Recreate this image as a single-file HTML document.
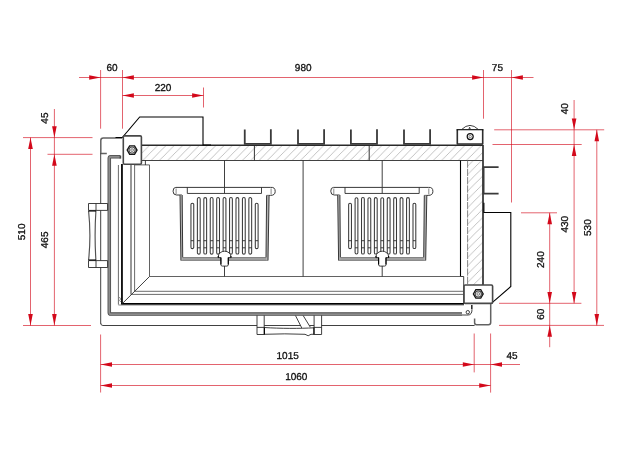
<!DOCTYPE html>
<html lang="en"><head><meta charset="utf-8"><title>Dimensional drawing</title>
<style>
html,body{margin:0;padding:0;background:#fff}
svg{display:block}
.r{stroke:#d3091b;stroke-width:.64;fill:none}
.ar{fill:#d3091b;stroke:none}
.t{text-rendering:geometricPrecision;font-family:"Liberation Sans",Arial,sans-serif;font-size:10px;fill:#111;stroke:#111;stroke-width:.3;text-anchor:middle}
.n{stroke:#2b2b2b;stroke-width:.9;fill:none}
.nw{stroke:#2b2b2b;stroke-width:.9;fill:#fff}
.g{stroke:#555;stroke-width:.7;fill:none}
.cho{stroke:#484848;stroke-width:3.5;fill:none}
.chi{stroke:#8c8c8c;stroke-width:1.9;fill:none}
.k{stroke:#000;stroke-width:1.1;fill:none}
.kt{stroke:#2a2a2a;stroke-width:1.5;fill:none}
.gl{stroke:#777;stroke-width:.9;fill:none;stroke-dasharray:7.3 1}
.b{stroke:#383838;stroke-width:1;fill:none}
.s{stroke:#3a3a3a;stroke-width:1.05;fill:#fff}
.kb{stroke:#2e2e2e;stroke-width:1.6;fill:none;stroke-linejoin:round}
.kc{stroke:#111;stroke-width:1.2;fill:none}
.gb{stroke:#383838;stroke-width:.95;fill:none}
.dv{stroke:#2a2a2a;stroke-width:.95;fill:none}
.u{stroke:#3a3a3a;stroke-width:1.8;fill:none}
.n2{stroke:#505050;stroke-width:.85;fill:none}
.n3{stroke:#3a3a3a;stroke-width:.8;fill:none}
.re{stroke:#303030;stroke-width:1.7;fill:none}
.bl{stroke:#777;stroke-width:.8;fill:none}
.n4{stroke:#444;stroke-width:1.1;fill:none}
.hc{stroke:#505050;stroke-width:1.15;fill:none}
.kk{stroke:#000;stroke-width:1.75;fill:none}
.d2{stroke:#484848;stroke-width:1.6;fill:none;stroke-linejoin:round}
.bh{stroke:#151515;stroke-width:1.35;fill:#fff}
.d3{stroke:#626262;stroke-width:1.5;fill:none;stroke-linejoin:round}
.br{stroke:#484848;stroke-width:1.15;fill:#f4f4f4}
.bc{stroke:#6a6a6a;stroke-width:.8;fill:none}
</style></head><body>
<svg style="will-change:transform;opacity:.999" width="624" height="460" viewBox="0 0 624 460">
<defs><pattern id="h2" width="8.3" height="8.3" patternUnits="userSpaceOnUse" patternTransform="translate(3 0)"><path d="M-1 9.3 L9.3 -1 M-1 1 L1 -1 M7.3 9.3 L9.3 7.3" stroke="#a6a6a6" stroke-width=".68"/></pattern><pattern id="h" width="8.3" height="8.3" patternUnits="userSpaceOnUse" patternTransform="translate(4.4 0)"><path d="M-1 9.3 L9.3 -1 M-1 1 L1 -1 M7.3 9.3 L9.3 7.3" stroke="#a6a6a6" stroke-width=".68"/></pattern></defs>
<rect width="624" height="460" fill="#fff"/>
<g id="dims">
<line x1="79" y1="77.5" x2="533.5" y2="77.5" class="r"/>
<line x1="100.6" y1="70" x2="100.6" y2="128.7" class="r"/>
<line x1="122.5" y1="70" x2="122.5" y2="128.7" class="r"/>
<line x1="483.5" y1="70" x2="483.5" y2="118.7" class="r"/>
<line x1="511.5" y1="70" x2="511.5" y2="202.5" class="r"/>
<polygon points="100.60,77.50 89.20,75.20 89.20,79.80" class="ar"/>
<polygon points="122.50,77.50 133.90,75.20 133.90,79.80" class="ar"/>
<polygon points="483.50,77.50 472.10,75.20 472.10,79.80" class="ar"/>
<polygon points="511.50,77.50 522.90,75.20 522.90,79.80" class="ar"/>
<text x="112.1" y="71.3" class="t">60</text>
<text x="303.2" y="71.1" class="t">980</text>
<text x="497.4" y="70.8" class="t">75</text>
<line x1="122.5" y1="95.5" x2="203.5" y2="95.5" class="r"/>
<line x1="203.5" y1="87.5" x2="203.5" y2="107.5" class="r"/>
<polygon points="122.50,95.50 133.90,93.20 133.90,97.80" class="ar"/>
<polygon points="203.50,95.50 192.10,93.20 192.10,97.80" class="ar"/>
<text x="163.1" y="90.6" class="t">220</text>
<line x1="23" y1="137.6" x2="92.5" y2="137.6" class="r"/>
<line x1="47.5" y1="154.3" x2="92.5" y2="154.3" class="r"/>
<line x1="23" y1="325.5" x2="91" y2="325.5" class="r"/>
<line x1="54.4" y1="109" x2="54.4" y2="325.5" class="r"/>
<line x1="30.5" y1="137.6" x2="30.5" y2="325.5" class="r"/>
<polygon points="54.40,137.60 52.10,126.20 56.70,126.20" class="ar"/>
<polygon points="54.40,154.30 52.10,165.70 56.70,165.70" class="ar"/>
<polygon points="54.40,325.50 52.10,314.10 56.70,314.10" class="ar"/>
<polygon points="30.50,137.60 28.20,149.00 32.80,149.00" class="ar"/>
<polygon points="30.50,325.50 28.20,314.10 32.80,314.10" class="ar"/>
<text transform="translate(48.4 118.1) rotate(-90)" class="t">45</text>
<text transform="translate(24.6 231.9) rotate(-90)" class="t">510</text>
<text transform="translate(48.4 239.9) rotate(-90)" class="t">465</text>
<line x1="100.6" y1="334.5" x2="100.6" y2="392.5" class="r"/>
<line x1="474.2" y1="333.5" x2="474.2" y2="372.4" class="r"/>
<line x1="490.6" y1="333.5" x2="490.6" y2="392.6" class="r"/>
<line x1="100.6" y1="364.5" x2="520" y2="364.5" class="r"/>
<line x1="100.6" y1="385.5" x2="490.6" y2="385.5" class="r"/>
<polygon points="100.60,364.50 112.00,362.20 112.00,366.80" class="ar"/>
<polygon points="474.20,364.50 462.80,362.20 462.80,366.80" class="ar"/>
<polygon points="490.60,364.50 502.00,362.20 502.00,366.80" class="ar"/>
<polygon points="100.60,385.50 112.00,383.20 112.00,387.80" class="ar"/>
<polygon points="490.60,385.50 479.20,383.20 479.20,387.80" class="ar"/>
<text x="287.7" y="358.6" class="t">1015</text>
<text x="296.3" y="380" class="t">1060</text>
<text x="512" y="358.8" class="t">45</text>
<line x1="494.2" y1="129.8" x2="604.2" y2="129.8" class="r"/>
<line x1="492.5" y1="144.5" x2="581.7" y2="144.5" class="r"/>
<line x1="521" y1="212.8" x2="557" y2="212.8" class="r"/>
<line x1="499" y1="303.3" x2="581.4" y2="303.3" class="r"/>
<line x1="499" y1="325.4" x2="604" y2="325.4" class="r"/>
<line x1="574.1" y1="100" x2="574.1" y2="303.3" class="r"/>
<line x1="596.8" y1="129.8" x2="596.8" y2="325.5" class="r"/>
<line x1="549.7" y1="212.8" x2="549.7" y2="347.2" class="r"/>
<polygon points="574.10,129.80 571.80,118.40 576.40,118.40" class="ar"/>
<polygon points="574.10,144.60 571.80,156.00 576.40,156.00" class="ar"/>
<polygon points="574.10,303.30 571.80,291.90 576.40,291.90" class="ar"/>
<polygon points="596.80,129.80 594.50,141.20 599.10,141.20" class="ar"/>
<polygon points="596.80,325.50 594.50,314.10 599.10,314.10" class="ar"/>
<polygon points="549.70,212.80 547.40,224.20 552.00,224.20" class="ar"/>
<polygon points="549.70,303.30 547.40,291.90 552.00,291.90" class="ar"/>
<polygon points="549.70,325.40 547.40,336.80 552.00,336.80" class="ar"/>
<text transform="translate(568 108.7) rotate(-90)" class="t">40</text>
<text transform="translate(568 224.2) rotate(-90)" class="t">430</text>
<text transform="translate(590.7 227.6) rotate(-90)" class="t">530</text>
<text transform="translate(544 259.6) rotate(-90)" class="t">240</text>
<text transform="translate(544 314.2) rotate(-90)" class="t">60</text>
</g>
<g id="drw">
<rect x="141.3" y="145.5" width="341.4" height="15" fill="url(#h)"/>
<rect x="467.6" y="160.5" width="15.4" height="124.5" fill="url(#h2)"/>
<line x1="141.3" y1="160.5" x2="483" y2="160.5" class="gb"/>
<line x1="467.6" y1="160.5" x2="467.6" y2="285" class="gl"/>
<line x1="141.3" y1="145.2" x2="483" y2="145.2" class="kt"/>
<line x1="254.4" y1="145.5" x2="254.4" y2="160.5" class="dv"/>
<line x1="369.2" y1="145.5" x2="369.2" y2="160.5" class="dv"/>
<line x1="483" y1="145" x2="483" y2="285" class="re"/>
<path d="M244.75 129.5 V143.9 H270.85 V129.3" class="u"/>
<path d="M298 129.5 V143.9 H324.1 V129.3" class="u"/>
<path d="M350.9 129.5 V143.9 H377.0 V129.3" class="u"/>
<path d="M404 129.5 V143.9 H430.1 V129.3" class="u"/>
<path d="M498.6 167.2 H483.6 V193.6 H498.6" class="u"/>
<path d="M483.9 202.8 V212.5 H510.8 V286.5 L491.9 302.8" class="k"/>
<path d="M122 138 H103.3 Q100.8 138 100.8 140.5 V153.4 H106.8" class="d3"/>
<line x1="100.7" y1="153.4" x2="100.7" y2="203.5" class="n"/>
<line x1="100.7" y1="210.4" x2="100.7" y2="260.5" class="n"/>
<line x1="100.7" y1="267.5" x2="100.7" y2="323.5" class="n"/>
<path d="M100.7 323 Q100.7 325.5 102.9 325.5 H257 M264.2 325.5 H300.4 M309.4 325.5 H314.1 M321.6 325.5 H474.6" class="n"/>
<path d="M120.3 156.7 H110.9 Q109.3 156.7 109.3 158.3 V312.5 Q109.3 314.1 110.9 314.1 H462" class="cho"/>
<path d="M120.3 156.7 H110.9 Q109.3 156.7 109.3 158.3 V312.5 Q109.3 314.1 110.9 314.1 H462" class="chi"/>
<path d="M120.4 155.6 V158.6" class="d2"/>
<line x1="118.4" y1="165" x2="118.4" y2="304.6" class="n2"/>
<line x1="121.95" y1="164" x2="121.95" y2="303.8" class="kk"/>
<line x1="121.1" y1="303.75" x2="464" y2="303.75" class="kk"/>
<line x1="118.4" y1="305" x2="464" y2="305" class="g"/>
<path d="M119.3 297 L120.6 299 L119.6 300.5 L120.8 302" class="g"/>
<path d="M131 164.9 V294.4" class="n4"/>
<path d="M131 294.4 H463.7" class="n2"/>
<path d="M134.6 164.9 V291.3 H463.7" class="n2"/>
<path d="M134.6 164.9 H149.5 V276.5 H460.4" class="n3"/>
<line x1="122.3" y1="303.6" x2="149.5" y2="276.5" class="n"/>
<line x1="145.4" y1="160.3" x2="145.4" y2="165" class="n"/>
<line x1="303.1" y1="160.5" x2="303.1" y2="276.5" class="n"/>
<line x1="460.5" y1="160.5" x2="460.5" y2="276.5" class="k"/>
<line x1="463.7" y1="276.5" x2="463.7" y2="303.6" class="n"/>
<line x1="460.4" y1="276.5" x2="463.7" y2="276.5" class="n"/>
<path d="M115.5 137.5 H122.3 L139.7 117 H203 V145 H211" class="k"/>
<rect x="123.3" y="135.9" width="18.1" height="28.3" rx="1.2" class="d2"/>
<rect x="464" y="285" width="28.6" height="18.4" rx="1.2" class="d2"/>
<path d="M457.3 129.7 V144 H482.7 V129.7" class="kb"/>
<line x1="456.5" y1="129.7" x2="483.5" y2="129.7" class="k"/>
<polygon points="137.00,150.10 134.55,154.34 129.65,154.34 127.20,150.10 129.65,145.86 134.55,145.86" class="bh"/>
<circle cx="132.1" cy="150.1" r="3.1" class="br"/>
<circle cx="132.1" cy="150.1" r="1.4" class="bc" style="fill:#e4e4e4"/>
<polygon points="483.20,293.90 480.75,298.14 475.85,298.14 473.40,293.90 475.85,289.66 480.75,289.66" class="bh"/>
<circle cx="478.3" cy="293.9" r="3.1" class="br"/>
<circle cx="478.3" cy="293.9" r="1.4" class="bc" style="fill:#e4e4e4"/>
<circle cx="470.2" cy="136.6" r="3" class="kc"/><circle cx="470.2" cy="136.6" r="1.2" class="bc"/>
<path d="M461.6 129.5 Q470 121.3 478.4 129.5" class="n"/>
<path d="M468.9 129.2 L469.6 127.3 L470.3 129.2" class="n"/>
<path d="M490.7 304 V322.5 Q490.7 324.7 488.5 324.7 H476.5 Q474.6 324.7 474.6 322.8 V318.6" class="d3"/>
<path d="M471.8 305 V309.3" class="kb"/>
<path d="M472 309.5 Q472 315 468 315 H462" class="n"/>
<circle cx="467.8" cy="312.2" r="1.7" class="n" style="fill:#fff"/>
<path d="M88.5 203.5 H107.6 V210.4 H88.5 Z M96 203.5 V210.4 M88.5 260.6 H107.6 V267.5 H88.5 Z M96 260.6 V267.5" class="n"/>
<path d="M88.6 211 Q91.2 235.5 88.6 260 M95.9 211 Q94.3 235.5 95.9 260" class="hc"/>
<line x1="88.5" y1="211" x2="96" y2="211" class="k"/>
<line x1="88.5" y1="260" x2="96" y2="260" class="k"/>
<path d="M257 315.4 V334.5 H264.2 V315.4 M314.1 315.4 V334.5 H321.6 V315.4 M257 327.4 H264.2 M314.1 327.4 H321.6" class="n"/>
<path d="M264.2 327.5 C280 328.6 300 328.6 314.1 327.8 M264.2 334.3 Q285 333.4 305 334.3 Q308.3 337.2 311 334.3 H314.1" class="n"/>
<line x1="264.4" y1="327.4" x2="264.4" y2="334.5" class="k"/>
<line x1="313.9" y1="327.4" x2="313.9" y2="334.5" class="k"/>
<line x1="295.5" y1="315.6" x2="301.9" y2="328.2" class="n"/>
<line x1="303.2" y1="315.6" x2="310.3" y2="327.2" class="n"/>
<line x1="224.5" y1="160.5" x2="224.5" y2="193.4" class="n"/>
<line x1="224.5" y1="265.8" x2="224.5" y2="276.5" class="n"/>
<path d="M175.80 187.4 H270.70" class="b"/>
<path d="M175.80 187.4 Q173.05 187.4 173.05 191.2 Q173.05 195 176.50 195 H181.90" class="b"/>
<path d="M270.70 187.4 Q275.20 186.9 275.20 191.4 Q275.20 195.4 270.50 195.4 H266.70" class="b"/>
<line x1="176.1" y1="188.5" x2="176.1" y2="194.2" class="g"/>
<line x1="271.1" y1="188.5" x2="271.1" y2="194.4" class="g"/>
<path d="M187.30 187.4 V193.45 H261.50 V187.4" class="n"/>
<path d="M180.00 195 L180.90 260.5 H268.00 L269.10 195.4 H266.60 L266.00 257.4 H182.70 L182.20 195 Z" fill="#b4b4b4"/>
<rect x="182.70" y="257.4" width="83.3" height="3.1" fill="#a0a0a0"/>
<path d="M180.00 195 L180.90 260.5 M268.00 260.5 L269.10 195.4" class="b"/>
<path d="M182.20 195 L182.70 257.4 M266.00 257.4 L266.60 195.4" class="b"/>
<path d="M180.90 260.4 H268.00 M182.70 257.5 H266.00" class="bl"/>
<path d="M190.95 247.2 V204.6 A1.4 1.4 0 0 1 193.75 204.6 V247.2 A1.4 1.4 0 0 1 190.95 247.2 Z" class="s"/>
<line x1="190.95" y1="240.7" x2="193.75" y2="240.7" class="n"/>
<path d="M197.38 252.7 V199.0 A1.4 1.4 0 0 1 200.19 199.0 V252.7 A1.4 1.4 0 0 1 197.38 252.7 Z" class="s"/>
<line x1="197.38" y1="240.7" x2="200.19" y2="240.7" class="n"/>
<line x1="197.38" y1="247.8" x2="200.19" y2="247.8" class="n"/>
<path d="M203.82 252.7 V199.0 A1.4 1.4 0 0 1 206.62 199.0 V252.7 A1.4 1.4 0 0 1 203.82 252.7 Z" class="s"/>
<line x1="203.82" y1="240.7" x2="206.62" y2="240.7" class="n"/>
<line x1="203.82" y1="247.8" x2="206.62" y2="247.8" class="n"/>
<path d="M210.25 252.7 V199.0 A1.4 1.4 0 0 1 213.06 199.0 V252.7 A1.4 1.4 0 0 1 210.25 252.7 Z" class="s"/>
<line x1="210.25" y1="240.7" x2="213.06" y2="240.7" class="n"/>
<line x1="210.25" y1="247.8" x2="213.06" y2="247.8" class="n"/>
<path d="M216.69 252.7 V199.0 A1.4 1.4 0 0 1 219.49 199.0 V252.7 A1.4 1.4 0 0 1 216.69 252.7 Z" class="s"/>
<line x1="216.69" y1="240.7" x2="219.49" y2="240.7" class="n"/>
<line x1="216.69" y1="247.8" x2="219.49" y2="247.8" class="n"/>
<path d="M223.12 252.7 V199.0 A1.4 1.4 0 0 1 225.92 199.0 V252.7 A1.4 1.4 0 0 1 223.12 252.7 Z" class="s"/>
<line x1="223.12" y1="240.7" x2="225.92" y2="240.7" class="n"/>
<line x1="223.12" y1="247.8" x2="225.92" y2="247.8" class="n"/>
<path d="M229.56 252.7 V199.0 A1.4 1.4 0 0 1 232.36 199.0 V252.7 A1.4 1.4 0 0 1 229.56 252.7 Z" class="s"/>
<line x1="229.56" y1="240.7" x2="232.36" y2="240.7" class="n"/>
<line x1="229.56" y1="247.8" x2="232.36" y2="247.8" class="n"/>
<path d="M235.99 252.7 V199.0 A1.4 1.4 0 0 1 238.79 199.0 V252.7 A1.4 1.4 0 0 1 235.99 252.7 Z" class="s"/>
<line x1="235.99" y1="240.7" x2="238.79" y2="240.7" class="n"/>
<line x1="235.99" y1="247.8" x2="238.79" y2="247.8" class="n"/>
<path d="M242.43 252.7 V199.0 A1.4 1.4 0 0 1 245.23 199.0 V252.7 A1.4 1.4 0 0 1 242.43 252.7 Z" class="s"/>
<line x1="242.43" y1="240.7" x2="245.23" y2="240.7" class="n"/>
<line x1="242.43" y1="247.8" x2="245.23" y2="247.8" class="n"/>
<path d="M248.86 252.7 V199.0 A1.4 1.4 0 0 1 251.66 199.0 V252.7 A1.4 1.4 0 0 1 248.86 252.7 Z" class="s"/>
<line x1="248.86" y1="240.7" x2="251.66" y2="240.7" class="n"/>
<line x1="248.86" y1="247.8" x2="251.66" y2="247.8" class="n"/>
<path d="M255.30 247.2 V204.6 A1.4 1.4 0 0 1 258.10 204.6 V247.2 A1.4 1.4 0 0 1 255.30 247.2 Z" class="s"/>
<line x1="255.3" y1="240.7" x2="258.1" y2="240.7" class="n"/>
<path d="M218.30 257.6 V256.6 A6.3 5.4 0 0 1 230.90 256.6 V257.6 H228.30 V264.6 Q228.30 266.1 226.80 266.1 H222.40 Q220.90 266.1 220.90 264.6 V257.6 Z" class="nw"/>
<path d="M220.90 257.6 V264.4 M228.30 257.6 V264.4 M218.30 256 V257.8 M230.90 256 V257.8" class="k"/>
<line x1="382.2" y1="160.5" x2="382.2" y2="193.4" class="n"/>
<line x1="382.2" y1="265.8" x2="382.2" y2="276.5" class="n"/>
<path d="M333.50 187.4 H428.40" class="b"/>
<path d="M333.50 187.4 Q330.75 187.4 330.75 191.2 Q330.75 195 334.20 195 H339.60" class="b"/>
<path d="M428.40 187.4 Q432.90 186.9 432.90 191.4 Q432.90 195.4 428.20 195.4 H424.40" class="b"/>
<line x1="333.8" y1="188.5" x2="333.8" y2="194.2" class="g"/>
<line x1="428.8" y1="188.5" x2="428.8" y2="194.4" class="g"/>
<path d="M345.00 187.4 V193.45 H419.20 V187.4" class="n"/>
<path d="M337.70 195 L338.60 260.5 H425.70 L426.80 195.4 H424.30 L423.70 257.4 H340.40 L339.90 195 Z" fill="#b4b4b4"/>
<rect x="340.40" y="257.4" width="83.3" height="3.1" fill="#a0a0a0"/>
<path d="M337.70 195 L338.60 260.5 M425.70 260.5 L426.80 195.4" class="b"/>
<path d="M339.90 195 L340.40 257.4 M423.70 257.4 L424.30 195.4" class="b"/>
<path d="M338.60 260.4 H425.70 M340.40 257.5 H423.70" class="bl"/>
<path d="M348.65 247.2 V204.6 A1.4 1.4 0 0 1 351.45 204.6 V247.2 A1.4 1.4 0 0 1 348.65 247.2 Z" class="s"/>
<line x1="348.65" y1="240.7" x2="351.45" y2="240.7" class="n"/>
<path d="M355.09 252.7 V199.0 A1.4 1.4 0 0 1 357.88 199.0 V252.7 A1.4 1.4 0 0 1 355.09 252.7 Z" class="s"/>
<line x1="355.09" y1="240.7" x2="357.88" y2="240.7" class="n"/>
<line x1="355.09" y1="247.8" x2="357.88" y2="247.8" class="n"/>
<path d="M361.52 252.7 V199.0 A1.4 1.4 0 0 1 364.32 199.0 V252.7 A1.4 1.4 0 0 1 361.52 252.7 Z" class="s"/>
<line x1="361.52" y1="240.7" x2="364.32" y2="240.7" class="n"/>
<line x1="361.52" y1="247.8" x2="364.32" y2="247.8" class="n"/>
<path d="M367.96 252.7 V199.0 A1.4 1.4 0 0 1 370.75 199.0 V252.7 A1.4 1.4 0 0 1 367.96 252.7 Z" class="s"/>
<line x1="367.96" y1="240.7" x2="370.75" y2="240.7" class="n"/>
<line x1="367.96" y1="247.8" x2="370.75" y2="247.8" class="n"/>
<path d="M374.39 252.7 V199.0 A1.4 1.4 0 0 1 377.19 199.0 V252.7 A1.4 1.4 0 0 1 374.39 252.7 Z" class="s"/>
<line x1="374.39" y1="240.7" x2="377.19" y2="240.7" class="n"/>
<line x1="374.39" y1="247.8" x2="377.19" y2="247.8" class="n"/>
<path d="M380.83 252.7 V199.0 A1.4 1.4 0 0 1 383.62 199.0 V252.7 A1.4 1.4 0 0 1 380.83 252.7 Z" class="s"/>
<line x1="380.83" y1="240.7" x2="383.62" y2="240.7" class="n"/>
<line x1="380.83" y1="247.8" x2="383.62" y2="247.8" class="n"/>
<path d="M387.26 252.7 V199.0 A1.4 1.4 0 0 1 390.06 199.0 V252.7 A1.4 1.4 0 0 1 387.26 252.7 Z" class="s"/>
<line x1="387.26" y1="240.7" x2="390.06" y2="240.7" class="n"/>
<line x1="387.26" y1="247.8" x2="390.06" y2="247.8" class="n"/>
<path d="M393.70 252.7 V199.0 A1.4 1.4 0 0 1 396.50 199.0 V252.7 A1.4 1.4 0 0 1 393.70 252.7 Z" class="s"/>
<line x1="393.7" y1="240.7" x2="396.5" y2="240.7" class="n"/>
<line x1="393.7" y1="247.8" x2="396.5" y2="247.8" class="n"/>
<path d="M400.13 252.7 V199.0 A1.4 1.4 0 0 1 402.93 199.0 V252.7 A1.4 1.4 0 0 1 400.13 252.7 Z" class="s"/>
<line x1="400.13" y1="240.7" x2="402.93" y2="240.7" class="n"/>
<line x1="400.13" y1="247.8" x2="402.93" y2="247.8" class="n"/>
<path d="M406.57 252.7 V199.0 A1.4 1.4 0 0 1 409.37 199.0 V252.7 A1.4 1.4 0 0 1 406.57 252.7 Z" class="s"/>
<line x1="406.57" y1="240.7" x2="409.37" y2="240.7" class="n"/>
<line x1="406.57" y1="247.8" x2="409.37" y2="247.8" class="n"/>
<path d="M413.00 247.2 V204.6 A1.4 1.4 0 0 1 415.80 204.6 V247.2 A1.4 1.4 0 0 1 413.00 247.2 Z" class="s"/>
<line x1="413.0" y1="240.7" x2="415.8" y2="240.7" class="n"/>
<path d="M376.00 257.6 V256.6 A6.3 5.4 0 0 1 388.60 256.6 V257.6 H386.00 V264.6 Q386.00 266.1 384.50 266.1 H380.10 Q378.60 266.1 378.60 264.6 V257.6 Z" class="nw"/>
<path d="M378.60 257.6 V264.4 M386.00 257.6 V264.4 M376.00 256 V257.8 M388.60 256 V257.8" class="k"/>
</g>
</svg>
</body></html>
